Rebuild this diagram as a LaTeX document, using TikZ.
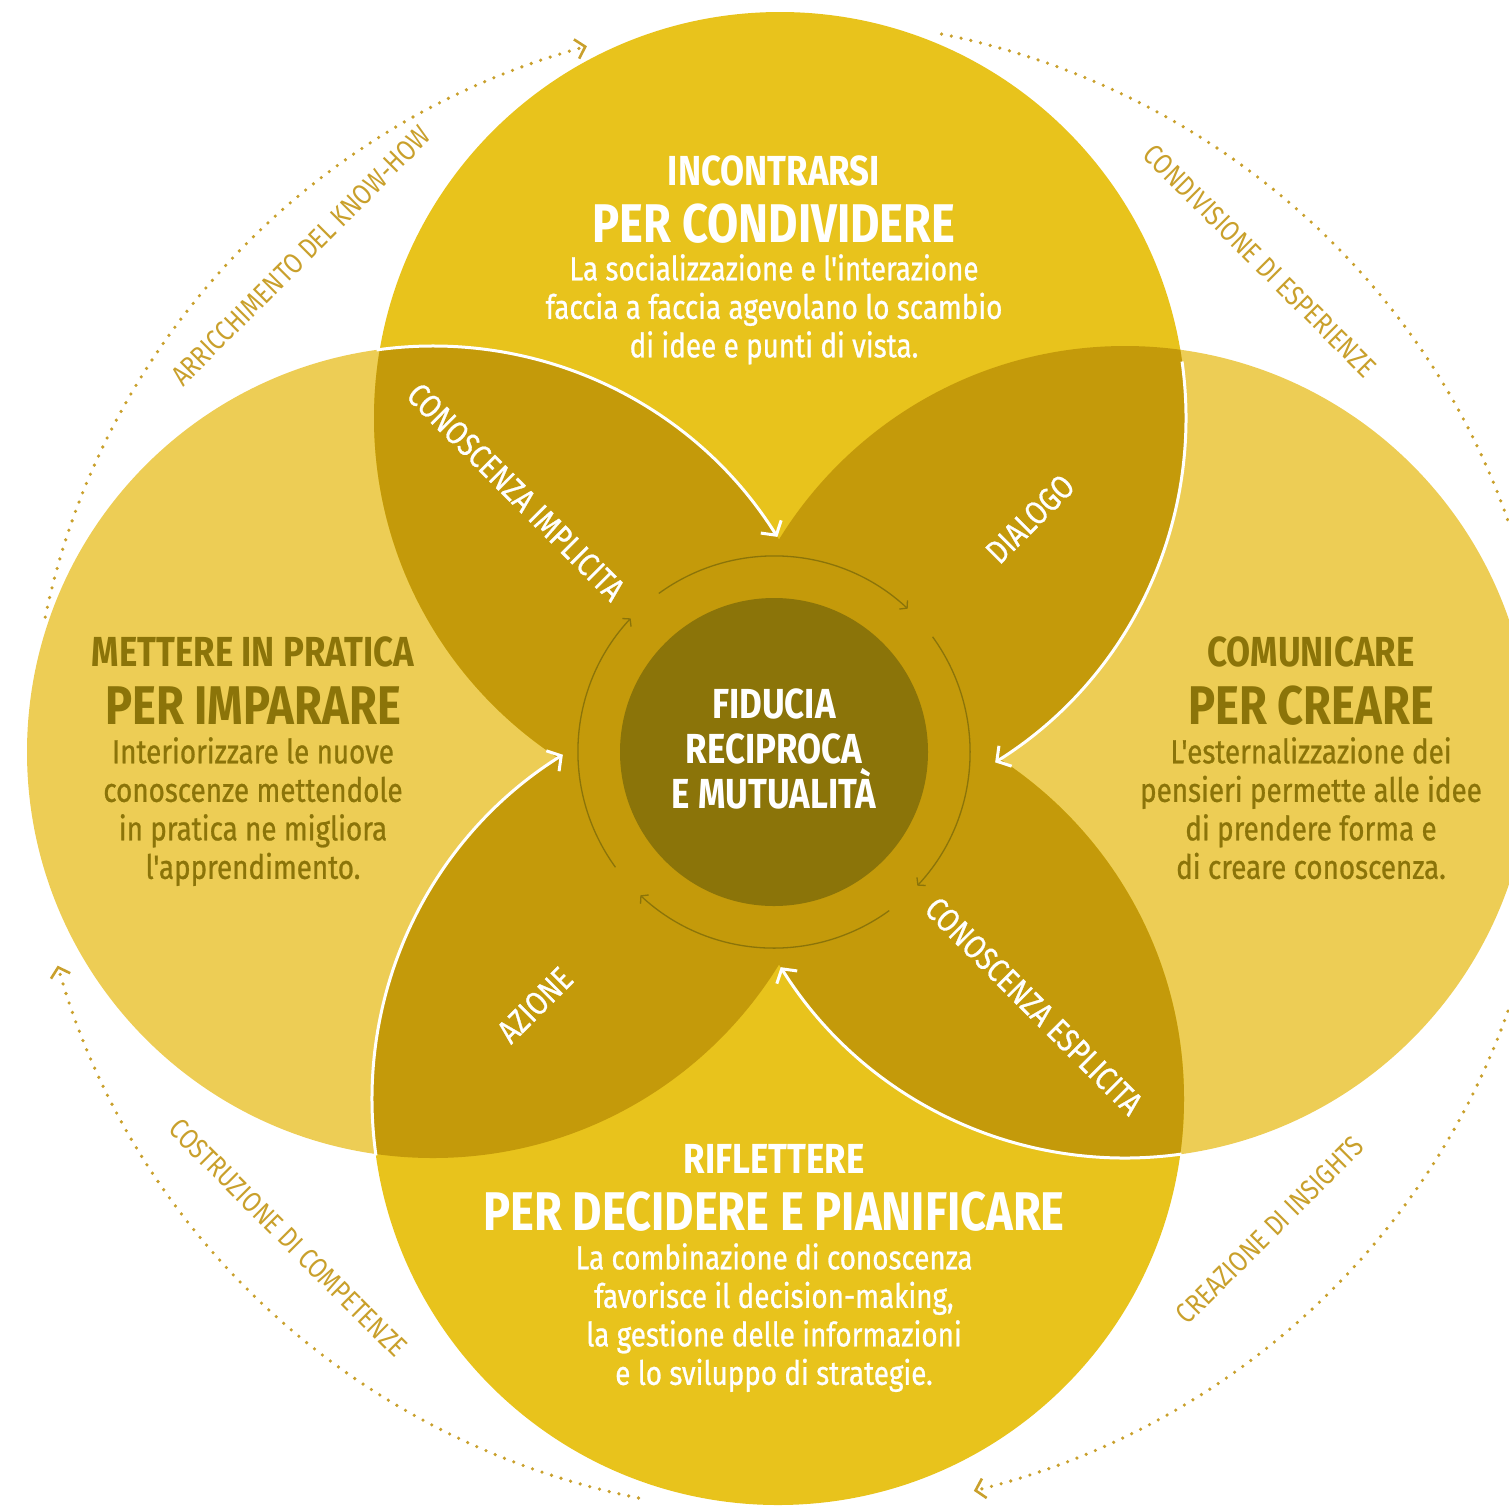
\documentclass[tikz,border=0pt]{standalone}
\usepackage{fontspec}
\setmainfont{Fira Sans}[FakeStretch=0.83, Ligatures=TeXOff]
\newfontfamily\bodyfont{Fira Sans}[FakeStretch=0.83, FakeBold=0.8, Ligatures=TeXOff]
\usetikzlibrary{arrows.meta}

\definecolor{sunyellow}{HTML}{E8C31C}
\definecolor{paleyellow}{HTML}{EDCD55}
\definecolor{ochre}{HTML}{C49A0A}
\definecolor{olive}{HTML}{8B7409}
\definecolor{gold}{HTML}{C9A02C}

\tikzset{
  whitearc/.style={white, line width=3pt, -{Straight Barb[length=10pt, width=24pt, line width=3pt]}},
  ringarc/.style={olive, line width=1.3pt, -{Straight Barb[length=5pt, width=12pt, line width=1.3pt]}},
  dotarc/.style={gold, line width=3.6pt, line cap=round, dash pattern=on 0pt off 10pt,
    -{Straight Barb[length=9pt, width=20pt, line width=2.6pt]}},
  lead/.style={font=\bfseries\fontsize{42}{46}\selectfont},
  headline/.style={font=\bfseries\fontsize{54.5}{58}\selectfont},
  blurb/.style={font=\bodyfont\fontsize{33.5}{38.5}\selectfont, align=center, anchor=north, inner sep=0pt},
  petal/.style={white, font=\bodyfont\fontsize{33}{36}\selectfont},
  looplabel/.style={gold, font=\fontsize{28.5}{30}\selectfont},
}

\begin{document}
\begin{tikzpicture}[x=1pt, y=1pt]
  \useasboundingbox (0,0) rectangle (1509,-1508);
  \clip (0,0) rectangle (1509,-1508);

  \coordinate (ct) at (780,-418);
  \coordinate (cb) at (778,-1099);
  \coordinate (cl) at (433,-752);
  \coordinate (cr) at (1125,-752);
  \coordinate (mid) at (774,-752);
  \coordinate (orbit) at (790,-766);

  % the four circles
  \fill[paleyellow] (cl) circle[radius=406];
  \fill[paleyellow] (cr) circle[radius=406];
  \fill[sunyellow] (ct) circle[radius=406];
  \fill[sunyellow] (cb) circle[radius=406];

  % overlaps
  \foreach \p/\q in {ct/cl, ct/cr, cb/cl, cb/cr, ct/cb, cl/cr} {
    \begin{scope}
      \clip (\p) circle[radius=406];
      \fill[ochre] (\q) circle[radius=406];
    \end{scope}
  }

  \fill[olive] (mid) circle[radius=154];

  % white arrows along the circle borders
  \foreach \c/\a in {cl/98, ct/8, cr/-82, cb/188}
    \draw[whitearc] ([shift={(\a:406)}]\c) arc[start angle=\a, delta angle=-66, radius=406];

  % inner ring
  \foreach \a in {126,36,-54,-144}
    \draw[ringarc] ([shift={(\a:196)}]mid) arc[start angle=\a, delta angle=-79, radius=196];

  % dotted outer cycle
  \foreach \a/\d in {168.5/-63, 78.5/-63, -11.5/-64.5, -101.5/-63}
    \draw[dotarc] ([shift={(\a:760 and 747)}]orbit)
      arc[start angle=\a, delta angle=\d, x radius=760, y radius=747];

  % center
  \node[white, align=center, font=\bfseries\fontsize{42}{45}\selectfont] (trust) at (774,-749)
    {FIDUCIA\\RECIPROCA\\E MUTUALITÀ};

  % top
  \node[white, lead] (meet) at (774,-171) {INCONTRARSI};
  \node[white, headline] (share) at (774,-224) {PER CONDIVIDERE};
  \node[white, blurb] (sharetext) at (774,-254)
    {La socializzazione e l'interazione\\faccia a faccia agevolano lo scambio\\di idee e punti di vista.};

  % right
  \node[olive, lead] (talk) at (1311,-652) {COMUNICARE};
  \node[olive, headline] (create) at (1311,-706) {PER CREARE};
  \node[olive, blurb] (createtext) at (1311,-737)
    {L'esternalizzazione dei\\pensieri permette alle idee\\di prendere forma e\\di creare conoscenza.};

  % bottom
  \node[white, lead] (think) at (774,-1159) {RIFLETTERE};
  \node[white, headline] (plan) at (774,-1212) {PER DECIDERE E PIANIFICARE};
  \node[white, blurb] (plantext) at (774,-1243)
    {La combinazione di conoscenza\\favorisce il decision-making,\\la gestione delle informazioni\\e lo sviluppo di strategie.};

  % left
  \node[olive, lead] (practice) at (253,-652) {METTERE IN PRATICA};
  \node[olive, headline] (learn) at (253,-706) {PER IMPARARE};
  \node[olive, blurb] (learntext) at (253,-737)
    {Interiorizzare le nuove\\conoscenze mettendole\\in pratica ne migliora\\l'apprendimento.};

  % petals
  \node[petal, rotate=-45] (tacit) at (516,-492) {CONOSCENZA IMPLICITA};
  \node[petal, rotate=45] (dialog) at (1030,-519) {DIALOGO};
  \node[petal, rotate=-45] (explicit) at (1034,-1006) {CONOSCENZA ESPLICITA};
  \node[petal, rotate=45] (action) at (535,-1005) {AZIONE};

  % cycle labels
  \node[looplabel, rotate=45] (knowhow) at (301,-256) {ARRICCHIMENTO DEL KNOW-HOW};
  \node[looplabel, rotate=-45] (experience) at (1260,-261) {CONDIVISIONE DI ESPERIENZE};
  \node[looplabel, rotate=45] (insights) at (1270,-1230) {CREAZIONE DI INSIGHTS};
  \node[looplabel, rotate=-45] (skills) at (288,-1238) {COSTRUZIONE DI COMPETENZE};
\end{tikzpicture}
\end{document}
